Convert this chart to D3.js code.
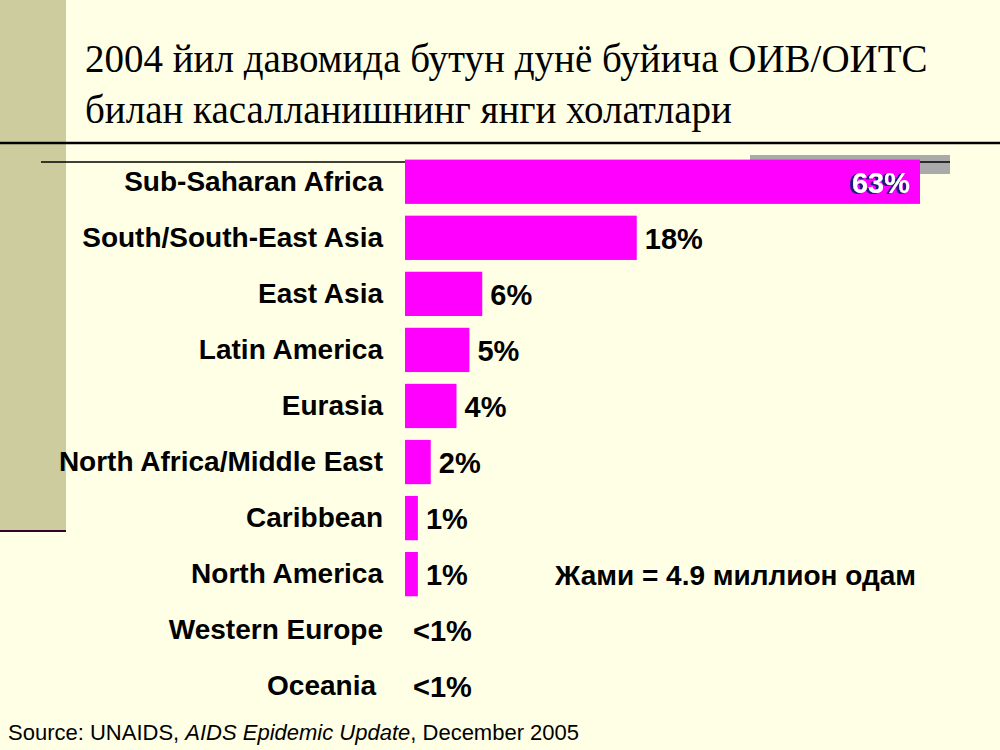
<!DOCTYPE html>
<html><head><meta charset="utf-8">
<script src="https://cdn.jsdelivr.net/npm/d3@7"></script>
<style>body{margin:0;background:#ffffe6}</style>
</head><body>
<svg id="chart" width="1000" height="750"></svg>
<script>
const regions = ['Sub-Saharan Africa','South/South-East Asia','East Asia','Latin America','Eurasia',
  'North Africa/Middle East','Caribbean','North America','Western Europe','Oceania'];
const shares = [63, 18, 6, 5, 4, 2, 1, 1, 0, 0];
const shareLabels = ['63%','18%','6%','5%','4%','2%','1%','1%','<1%','<1%'];

const svg = d3.select('#chart');
const defs = svg.append('defs');
defs.append('filter').attr('id','shadow').attr('x','-20%').attr('y','-20%').attr('width','140%').attr('height','140%')
  .append('feDropShadow').attr('dx',-3).attr('dy',1).attr('stdDeviation',0.3).attr('flood-color','#1a1a80');

svg.append('rect').attr('width',1000).attr('height',750).attr('fill','#ffffe6');
// left strip
svg.append('rect').attr('width',66).attr('height',530).attr('fill','#cdcc9e');
svg.append('line').attr('x1',0).attr('x2',66).attr('y1',531).attr('y2',531)
  .attr('stroke','#330033').attr('stroke-width',2);

// title
const title = svg.append('text').attr('font-family','Liberation Serif, serif')
  .attr('font-size',39).attr('fill','#000');
title.append('tspan').attr('x',85).attr('y',72).text('2004 йил давомида бутун дунё буйича ОИВ/ОИТС');
title.append('tspan').attr('x',85).attr('y',123).text('билан касалланишнинг янги холатлари');
svg.append('line').attr('x1',0).attr('x2',1000).attr('y1',143).attr('y2',143)
  .attr('stroke','#000').attr('stroke-width',2.5);

// gray decorative box and rule
svg.append('rect').attr('x',750).attr('y',155).attr('width',200).attr('height',19).attr('fill','#aaaaaa');
svg.append('line').attr('x1',41).attr('x2',950).attr('y1',162).attr('y2',162)
  .attr('stroke','#000').attr('stroke-width',1.5);

const x = d3.scaleLinear().domain([0, 40]).range([405, 920]).clamp(true);
const y = d3.scaleBand().domain(regions).range([154, 714]).paddingInner(0.21).paddingOuter(0.1);
const sans = 'Liberation Sans, Arial, sans-serif';

const row = svg.selectAll('.row').data(regions).enter().append('g').attr('class','row');
row.append('rect')
  .attr('x', x(0)).attr('y', d => y(d))
  .attr('width', (d,i) => x(shares[i]) - x(0)).attr('height', y.bandwidth())
  .attr('fill','#ff00ff');
row.append('text')
  .attr('x', (d,i) => i === 9 ? 376 : 383).attr('y', d => y(d) + y.bandwidth()/2 + 9)
  .attr('text-anchor','end').attr('font-family',sans)
  .attr('font-weight','bold').attr('font-size',28).attr('fill','#000')
  .text(d => d);
row.filter((d,i) => i > 0).append('text')
  .attr('x', d => { const i = regions.indexOf(d); return shares[i] ? x(shares[i]) + 8 : 413; })
  .attr('y', d => y(d) + y.bandwidth()/2 + 11)
  .attr('font-family',sans)
  .attr('font-weight','bold').attr('font-size',29).attr('fill','#000')
  .text(d => shareLabels[regions.indexOf(d)]);

// 63% label inside bar with shadow
svg.append('text').attr('x', x(shares[0]) - 10).attr('y', y(regions[0]) + y.bandwidth()/2 + 11)
  .attr('text-anchor','end').attr('font-family',sans).attr('filter','url(#shadow)')
  .attr('font-weight','bold').attr('font-size',29).attr('fill','#ffffff').text(shareLabels[0]);

svg.append('text').attr('x',555).attr('y',585)
  .attr('font-family',sans).attr('font-weight','bold')
  .attr('font-size',28).text('Жами = 4.9 миллион одам');

const src = svg.append('text').attr('x',8).attr('y',740)
  .attr('font-family',sans).attr('font-size',22);
src.append('tspan').text('Source: UNAIDS, ');
src.append('tspan').attr('font-style','italic').text('AIDS Epidemic Update');
src.append('tspan').text(', December 2005');
</script>
</body></html>
